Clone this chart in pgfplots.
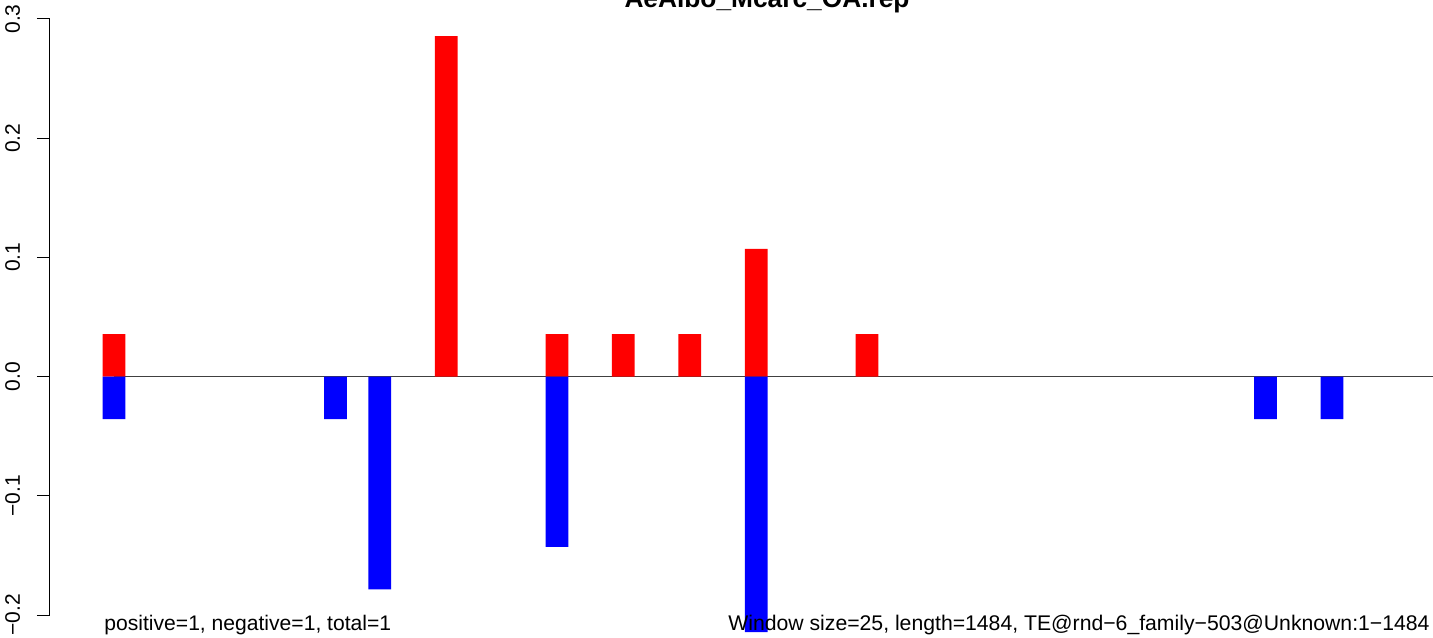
\documentclass[border=0pt]{standalone}
\usepackage{fontspec}
\setmainfont{Liberation Sans}
\usepackage{pgfplots}
\pgfplotsset{compat=1.18}
\begin{document}
\begin{tikzpicture}
\useasboundingbox (0,0) rectangle (716.5pt,318.5pt);
\clip (0,0) rectangle (716.5pt,318.5pt);
\begin{axis}[
  at={(25pt,11pt)}, anchor=south west,
  scale only axis, width=691.5pt, height=298pt,
  xmin=-1.890, xmax=60.562, ymin=-0.2, ymax=0.3,
  clip=false,
  axis x line=none,
  axis y line*=left,
  y axis line style={black, line width=0.5pt, -},
  ytick={-0.2,-0.1,0,0.1,0.2,0.3},
  yticklabels={−0.2,−0.1,0.0,0.1,0.2,0.3},
  tick align=outside,
  major tick length=6.5pt,
  tick style={black, line width=0.5pt},
  yticklabel style={rotate=90, anchor=base, inner sep=0pt, yshift=8.5pt, font=\fontsize{10.5}{12}\selectfont},
  /pgf/number format/assume math mode=true,
]
\addplot[black!75, line width=0.5pt] coordinates {(1,0) (60.562,0)};
\addplot[ybar, bar shift=0pt, bar width=11.35pt, fill={rgb,255:red,255;green,0;blue,0}, draw=none] coordinates {
  (1,0.035714) (16,0.285714) (21,0.035714) (24,0.035714) (27,0.035714) (30,0.107143) (35,0.035714)
};
\addplot[ybar, bar shift=0pt, bar width=11.35pt, fill={rgb,255:red,0;green,0;blue,255}, draw=none] coordinates {
  (1,-0.035714) (11,-0.035714) (13,-0.178571) (21,-0.142857) (30,-0.214286) (53,-0.035714) (56,-0.035714)
};
\end{axis}
\node[anchor=base, inner sep=0pt, font=\fontsize{13.15}{15}\selectfont\bfseries] at (383.5pt,314.5pt) {AeAlbo\_Mcarc\_OA.rep};
\node[anchor=base west, inner sep=0pt, font=\fontsize{10.55}{12}\selectfont] at (52pt,3.5pt) {positive=1, negative=1, total=1};
\node[anchor=base east, inner sep=0pt, font=\fontsize{10.6}{12}\selectfont] at (715pt,3.5pt) {Window size=25, length=1484, TE@rnd−6\_family−503@Unknown:1−1484};
\end{tikzpicture}
\end{document}
